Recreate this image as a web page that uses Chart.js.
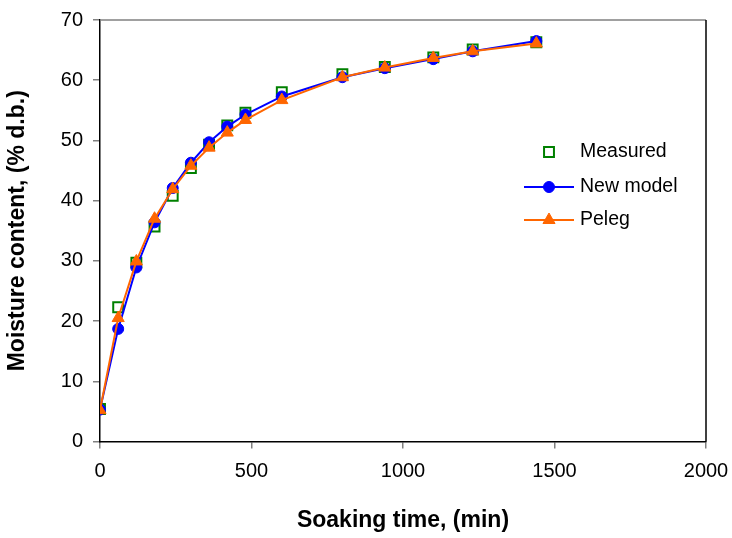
<!DOCTYPE html>
<html>
<head>
<meta charset="utf-8">
<script src="https://cdn.jsdelivr.net/npm/chart.js@4"></script>
<style>
    body { margin: 0; background: #fff; }
    #wrap { width: 732px; height: 538px; }
</style>
</head>
<body>
<div id="wrap"><canvas id="moistureChart"></canvas></div>
<script>
// soaking time (min)
const tempos = [0, 60, 120, 180, 240, 300, 360, 420, 480, 600, 800, 940, 1100, 1230, 1440];
const medido = [5.4, 22.3, 29.7, 35.7, 40.8, 45.4, 49.3, 52.5, 54.6, 58.0, 61.0, 62.2, 63.8, 65.1, 66.3];
const novoModelo = [5.3, 18.7, 28.9, 36.4, 42.1, 46.3, 49.7, 52.3, 54.3, 57.3, 60.5, 62.0, 63.5, 64.8, 66.5];
const peleg = [5.2, 20.5, 29.9, 37.0, 41.9, 45.8, 48.8, 51.3, 53.4, 56.7, 60.5, 62.1, 63.7, 64.8, 66.1];
const xTicks = [0, 500, 1000, 1500, 2000];
const yTicks = [0, 10, 20, 30, 40, 50, 60, 70];
const nomes = ['Measured', 'New model', 'Peleg'];

const fonte = "'Liberation Sans', Arial, sans-serif";

function pontos(ys) {
    return tempos.map((t, i) => ({ x: t, y: ys[i] }));
}

// moldura do plot (topo cinza, direita escura)
const moldura = {
    id: 'moldura',
    afterDraw(chart) {
        const { ctx, chartArea: a } = chart;
        ctx.save();
        ctx.lineWidth = 1.5;
        ctx.strokeStyle = '#808080';
        ctx.beginPath();
        ctx.moveTo(a.left, a.top);
        ctx.lineTo(a.right, a.top);
        ctx.stroke();
        ctx.strokeStyle = '#000';
        ctx.beginPath();
        ctx.moveTo(a.right, a.top);
        ctx.lineTo(a.right, a.bottom);
        ctx.stroke();
        ctx.restore();
    }
};

// legenda no estilo do Excel, com linha + marcador
const legenda = {
    id: 'legenda',
    afterDraw(chart) {
        const { ctx } = chart;
        const x0 = 524, x1 = 574, xm = 549, xt = 580;
        const linhas = [152, 187, 220];
        ctx.save();
        ctx.font = '19.5px ' + fonte;
        ctx.textBaseline = 'middle';
        chart.data.datasets.forEach((ds, i) => {
            const y = linhas[i];
            if (ds.showLine !== false) {
                ctx.strokeStyle = ds.borderColor;
                ctx.lineWidth = 2;
                ctx.beginPath();
                ctx.moveTo(x0, y);
                ctx.lineTo(x1, y);
                ctx.stroke();
            }
            ctx.fillStyle = ds.pointBackgroundColor;
            ctx.strokeStyle = ds.pointBorderColor;
            ctx.lineWidth = ds.pointBorderWidth || 1;
            Chart.helpers.drawPoint(ctx, {
                pointStyle: ds.pointStyle,
                radius: ds.pointRadius,
                borderWidth: ds.pointBorderWidth || 1
            }, xm, y);
            ctx.fillStyle = '#000';
            ctx.fillText(nomes[i], xt, y);
        });
        ctx.restore();
    }
};

const ctx = document.getElementById('moistureChart').getContext('2d');
new Chart(ctx, {
    type: 'scatter',
    data: {
        datasets: [
            {
                label: nomes[0],
                data: pontos(medido),
                showLine: false,
                pointStyle: 'rect',
                pointRadius: 7,
                pointBorderWidth: 2,
                pointBorderColor: '#008000',
                pointBackgroundColor: '#ffffff',
                borderColor: '#008000',
                order: 3
            },
            {
                label: nomes[1],
                data: pontos(novoModelo),
                showLine: true,
                borderColor: '#0000ff',
                borderWidth: 2,
                pointStyle: 'circle',
                pointRadius: 5.5,
                pointBorderWidth: 1,
                pointBorderColor: '#0000ff',
                pointBackgroundColor: '#0000ff',
                tension: 0,
                order: 2
            },
            {
                label: nomes[2],
                data: pontos(peleg),
                showLine: true,
                borderColor: '#ff6600',
                borderWidth: 2,
                pointStyle: 'triangle',
                pointRadius: 7,
                pointBorderWidth: 1,
                pointBorderColor: '#ff6600',
                pointBackgroundColor: '#ff6600',
                tension: 0,
                order: 1
            }
        ]
    },
    options: {
        responsive: true,
        maintainAspectRatio: false,
        animation: false,
        layout: { padding: { top: 20, right: 26, left: 0, bottom: 0 } },
        plugins: {
            legend: { display: false },
            tooltip: { enabled: false }
        },
        scales: {
            x: {
                type: 'linear',
                min: 0,
                max: 2000,
                afterBuildTicks: (s) => { s.ticks = xTicks.map(v => ({ value: v })); },
                afterFit: (s) => { s.height = 96.5; s.paddingLeft = 0; s.paddingRight = 0; },
                grid: { drawOnChartArea: false, drawTicks: true, tickLength: 7, color: '#808080', lineWidth: 1.5 },
                border: { color: '#000', width: 1.5 },
                ticks: { color: '#000', font: { family: fonte, size: 20 }, padding: 11, maxRotation: 0, callback: (v) => String(v) },
                title: { display: true, text: 'Soaking time, (min)', color: '#000', font: { family: fonte, size: 23, weight: 'bold' }, padding: { top: 14 } }
            },
            y: {
                type: 'linear',
                min: 0,
                max: 70,
                afterBuildTicks: (s) => { s.ticks = yTicks.map(v => ({ value: v })); },
                afterFit: (s) => { s.width = 100; s.paddingTop = 0; s.paddingBottom = 0; },
                grid: { drawOnChartArea: false, drawTicks: true, tickLength: 7, color: '#808080', lineWidth: 1.5 },
                border: { color: '#000', width: 1.5 },
                ticks: { color: '#000', font: { family: fonte, size: 20 }, padding: 10, callback: (v) => String(v) },
                title: { display: true, text: 'Moisture content, (% d.b.)', color: '#000', font: { family: fonte, size: 23, weight: 'bold' }, padding: { bottom: 4 } }
            }
        }
    },
    plugins: [moldura, legenda]
});
</script>
</body>
</html>
